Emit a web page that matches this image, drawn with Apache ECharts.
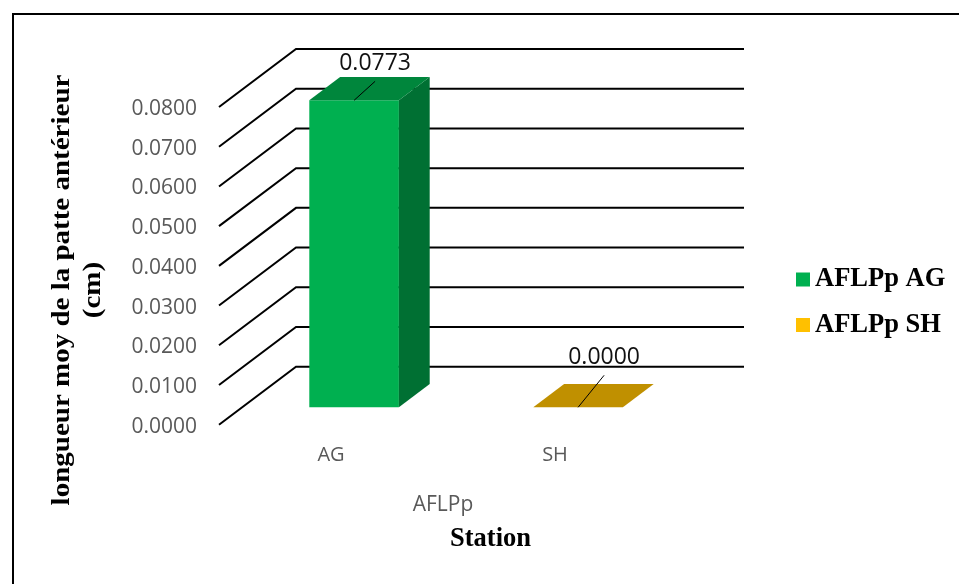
<!DOCTYPE html>
<html>
<head>
<meta charset="utf-8">
<style>html,body{margin:0;padding:0;background:#fff}#chart{width:959px;height:584px}</style>
<script src="https://cdn.jsdelivr.net/npm/echarts@6/dist/echarts.min.js"></script>
</head>
<body>
<div id="chart"></div>
<script>
// Station means of anterior leg length
const categories = ['AG', 'SH'];
const valuesAG = [0.0773];
const valuesSH = [0.0000];
const tickValues = [0, 0.01, 0.02, 0.03, 0.04, 0.05, 0.06, 0.07, 0.08];
const seriesNames = ['AFLPp AG', 'AFLPp SH'];
const groupLabel = 'AFLPp';
const xTitle = 'Station';
const yTitle = ['longueur moy de la patte antérieur', '(cm)'];

// Oblique projection of the 3D box: pixel shift of the full chart depth
const depthX = 77;
const depthY = 58;
const barDepthStart = 0.3;
const barDepthEnd = 0.7;
const barWidthRatio = 0.4;
const sansFont = '"Open Sans", sans-serif';
const serifFont = '"Liberation Serif", serif';

function shift(pt, d) {
  return [pt[0] + d * depthX, pt[1] - d * depthY];
}

// Back wall and side wall rules, one per tick
function renderRule(params, api) {
  const cs = params.coordSys;
  const front = [cs.x, api.coord([0, api.value(1)])[1]];
  const back = shift(front, 1);
  return {
    type: 'polyline',
    shape: { points: [front, back, [cs.x + cs.width + depthX, back[1]]] },
    style: { stroke: '#000', lineWidth: 2, fill: null }
  };
}

// Box with front, side and top faces, plus its leader line and value label
function boxRenderer(topColor, sideColor, leader) {
  return function (params, api) {
    const cat = api.value(0);
    const val = api.value(1);
    const w = api.size([1, 0])[0] * barWidthRatio;
    const c0 = api.coord([cat, 0]);
    const c1 = api.coord([cat, val]);
    const bl = [c0[0] - w / 2, c0[1]];
    const br = [c0[0] + w / 2, c0[1]];
    const tl = [c0[0] - w / 2, c1[1]];
    const tr = [c0[0] + w / 2, c1[1]];
    const f = p => shift(p, barDepthStart);
    const b = p => shift(p, barDepthEnd);
    const poly = (pts, color) => ({
      type: 'polygon',
      shape: { points: pts },
      style: { fill: color, stroke: null }
    });
    const anchor = [f(tl)[0] + w * leader.along, f(tl)[1]];
    const tip = [anchor[0] + leader.dx, anchor[1] + leader.dy];
    return {
      type: 'group',
      children: [
        poly([f(bl), f(br), f(tr), f(tl)], api.visual('color')),
        poly([f(br), b(br), b(tr), f(tr)], sideColor),
        poly([f(tl), f(tr), b(tr), b(tl)], topColor),
        {
          type: 'line',
          shape: { x1: anchor[0], y1: anchor[1], x2: tip[0], y2: tip[1] },
          style: { stroke: '#000', lineWidth: 1 }
        },
        {
          type: 'text',
          style: {
            x: tip[0], y: tip[1] - 18,
            text: val.toFixed(4),
            font: '23px ' + sansFont,
            fill: '#111',
            align: 'center',
            verticalAlign: 'middle'
          }
        }
      ]
    };
  };
}

const chart = echarts.init(document.getElementById('chart'), null, { renderer: 'canvas' });
chart.setOption({
  animation: false,
  backgroundColor: '#fff',
  grid: { left: 219, width: 448, top: 107, height: 317.7 },
  legend: {
    data: seriesNames,
    left: 791,
    top: 261,
    orient: 'vertical',
    icon: 'rect',
    itemWidth: 14,
    itemHeight: 14,
    itemGap: 18.5,
    textStyle: {
      fontFamily: serifFont, fontWeight: 'bold', fontSize: 26.5, color: '#000'
    }
  },
  xAxis: {
    type: 'category',
    data: categories,
    axisLine: { show: false },
    axisTick: { show: false },
    axisLabel: { margin: 21, fontFamily: sansFont, fontSize: 20, color: '#595959' },
    name: groupLabel,
    nameLocation: 'middle',
    nameGap: 70,
    nameTextStyle: { fontFamily: sansFont, fontSize: 21, color: '#595959' }
  },
  yAxis: {
    type: 'value',
    min: 0,
    max: 0.08,
    interval: 0.01,
    axisLine: { show: false },
    axisTick: { show: false },
    splitLine: { show: false },
    axisLabel: {
      margin: 22,
      fontFamily: sansFont,
      fontSize: 21,
      color: '#595959',
      verticalAlign: 'top',
      lineHeight: 4,
      formatter: v => v.toFixed(4)
    }
  },
  series: [
    {
      type: 'custom',
      name: 'rules',
      renderItem: renderRule,
      clip: false,
      silent: true,
      data: tickValues.map(v => [0, v]),
      encode: { x: 0, y: 1 }
    },
    {
      type: 'custom',
      name: seriesNames[0],
      renderItem: boxRenderer('#00863C', '#007033', { along: 0.5, dx: 21, dy: -19 }),
      clip: false,
      itemStyle: { color: '#00B050' },
      data: valuesAG.map(v => [0, v]),
      encode: { x: 0, y: 1 }
    },
    {
      type: 'custom',
      name: seriesNames[1],
      renderItem: boxRenderer('#C09000', '#8F6C00', { along: 0.5, dx: 26, dy: -32 }),
      clip: false,
      itemStyle: { color: '#FFC000' },
      data: valuesSH.map(v => [1, v]),
      encode: { x: 0, y: 1 }
    }
  ],
  graphic: [
    {
      type: 'polyline',
      shape: { points: [[13, 584], [13, 14], [959, 14]] },
      style: { stroke: '#000', lineWidth: 2, fill: null },
      silent: true
    },
    {
      type: 'text',
      left: 450,
      top: 526,
      style: { text: xTitle, font: 'bold 26.5px ' + serifFont, fill: '#000' }
    },
    {
      type: 'text',
      x: 62, y: 290,
      rotation: Math.PI / 2,
      scaleX: 1.115,
      style: {
        text: yTitle[0], font: 'bold 26px ' + serifFont, fill: '#000',
        align: 'center', verticalAlign: 'middle'
      }
    },
    {
      type: 'text',
      x: 93, y: 290,
      rotation: Math.PI / 2,
      scaleX: 1.115,
      style: {
        text: yTitle[1], font: 'bold 26px ' + serifFont, fill: '#000',
        align: 'center', verticalAlign: 'middle'
      }
    }
  ]
});
</script>
</body>
</html>
